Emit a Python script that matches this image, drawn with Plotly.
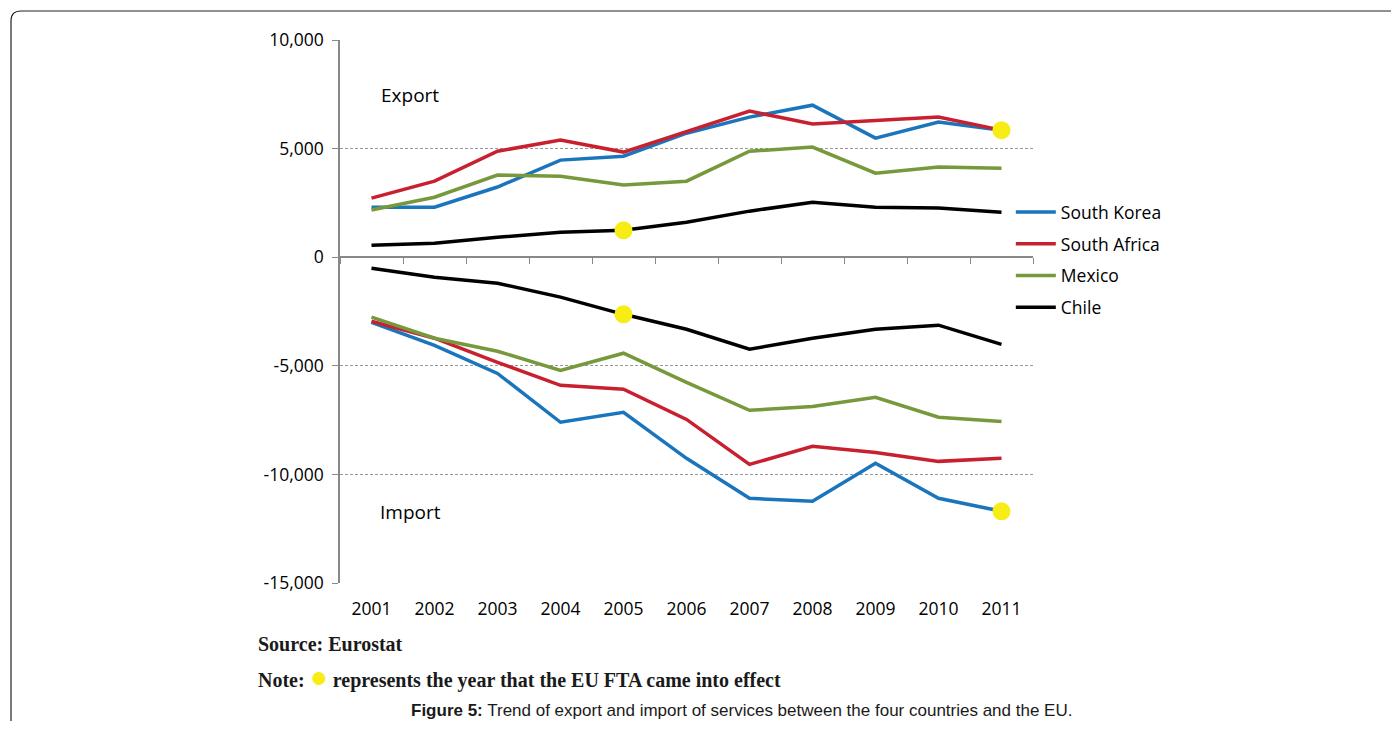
import plotly.graph_objects as go

years = ["2001", "2002", "2003", "2004", "2005", "2006", "2007", "2008", "2009", "2010", "2011"]

korea_exp = [2300, 2300, 3230, 4470, 4650, 5710, 6450, 7000, 5480, 6220, 5850]
africa_exp = [2720, 3500, 4880, 5390, 4840, 5800, 6730, 6130, 6310, 6450, 5850]
mexico_exp = [2170, 2760, 3780, 3730, 3320, 3500, 4880, 5070, 3870, 4150, 4100]
chile_exp = [550, 645, 920, 1150, 1240, 1610, 2120, 2530, 2300, 2260, 2070]

korea_imp = [-3000, -4060, -5350, -7600, -7140, -9260, -11100, -11240, -9490, -11100, -11700]
africa_imp = [-2950, -3730, -4840, -5900, -6080, -7470, -9540, -8710, -8990, -9400, -9260]
mexico_imp = [-2760, -3730, -4330, -5210, -4420, -5760, -7050, -6870, -6450, -7370, -7560]
chile_imp = [-510, -920, -1200, -1840, -2630, -3320, -4240, -3730, -3320, -3130, -4010]

# FTA years: Chile 2005, South Korea 2011
fta_chile_year = "2005"
fta_korea_year = "2011"

ytick_vals = [10000, 5000, 0, -5000, -10000, -15000]
ytick_text = ["10,000", "5,000", "0", "-5,000", "-10,000", "-15,000"]

series = [
    ("South Korea", korea_exp, korea_imp, "#1B75BC"),
    ("South Africa", africa_exp, africa_imp, "#C8202F"),
    ("Mexico", mexico_exp, mexico_imp, "#77983B"),
    ("Chile", chile_exp, chile_imp, "#000000"),
]

xi = list(range(len(years)))
fig = go.Figure()
for name, ex, im, col in series:
    fig.add_trace(go.Scatter(x=xi, y=ex, mode="lines", name=name,
                             line=dict(color=col, width=3.5), legendgroup=name))
    fig.add_trace(go.Scatter(x=xi, y=im, mode="lines", name=name, showlegend=False,
                             line=dict(color=col, width=3.5), legendgroup=name))

ci = years.index(fta_chile_year)
ki = years.index(fta_korea_year)
fig.add_trace(go.Scatter(
    x=[ci, ci, ki, ki],
    y=[chile_exp[ci], chile_imp[ci], korea_exp[ki], korea_imp[ki]],
    mode="markers", showlegend=False,
    marker=dict(color="#F7EC13", size=18, line=dict(width=0)),
))

# invisible trace for the category axis drawn at zero
fig.add_trace(go.Scatter(x=[-0.5, 10.5], y=[0, 0], xaxis="x2", mode="lines",
                         line=dict(width=0), showlegend=False, hoverinfo="skip"))

font_main = "Open Sans, Lato, sans-serif"

# page body has an 8px margin; figure is sized to fit inside the window
OFF = 8
W, H = 1383, 713
PL, PR, PT, PB = 340, 1033, 40, 583  # plot area in window pixels

fig.update_layout(
    width=W, height=H,
    margin=dict(l=PL - OFF, r=W - (PR - OFF), t=PT - OFF, b=H - (PB - OFF)),
    paper_bgcolor="white", plot_bgcolor="white",
    font=dict(family=font_main, size=17, color="#000000"),
    showlegend=True,
    legend=dict(x=0.968, y=0.716, xanchor="left", yanchor="top",
                bgcolor="rgba(0,0,0,0)", font=dict(size=17.5, family=font_main),
                itemwidth=40, tracegroupgap=6),
    xaxis=dict(range=[-0.5, 10.5], tickmode="array", tickvals=xi, ticktext=years,
               showgrid=False, zeroline=False, showline=False,
               ticks="outside", ticklen=10, tickcolor="rgba(0,0,0,0)",
               tickfont=dict(size=17.5, family=font_main)),
    xaxis2=dict(overlaying="x", anchor="free", position=0.6, side="bottom",
                range=[-0.5, 10.5], tickmode="array",
                tickvals=[i - 0.5 for i in range(len(years) + 1)],
                showticklabels=False, ticks="outside", ticklen=6, tickcolor="#888888",
                showline=True, linecolor="#888888", linewidth=1.5,
                showgrid=False, zeroline=False),
    yaxis=dict(range=[-15000, 10000], tickmode="array", tickvals=ytick_vals,
               ticktext=ytick_text, showgrid=True, gridcolor="#999999",
               griddash="3px,2px", gridwidth=1, zeroline=False,
               showline=True, linecolor="#888888", linewidth=1.5,
               ticks="outside", ticklen=6, tickcolor="#888888",
               ticklabelstandoff=5,
               tickfont=dict(size=17.5, family=font_main)),
)

fig.add_annotation(x=0.12, y=7450, xref="x", yref="y", text="Export", showarrow=False,
                   xanchor="left", yanchor="middle", font=dict(size=19, family=font_main))
fig.add_annotation(x=0.1, y=-11750, xref="x", yref="y", text="Import", showarrow=False,
                   xanchor="left", yanchor="middle", font=dict(size=19, family=font_main))


def px2x(p):
    return (p - PL) / (PR - PL)


def px2y(p):
    return (PB - p) / (PB - PT)


serif = "Liberation Serif, Times New Roman, serif"
fig.add_annotation(x=px2x(256), y=px2y(644), xref="paper", yref="paper",
                   text="<b>Source: Eurostat</b>", showarrow=False, xanchor="left",
                   yanchor="middle", font=dict(size=20, family=serif, color="#1a1a1a"))
fig.add_annotation(x=px2x(256), y=px2y(676), xref="paper", yref="paper",
                   text="<b>Note: <span style='color:#F7EC13;font-size:30px'>●</span> represents the year that the EU FTA came into effect</b>",
                   showarrow=False, xanchor="left", yanchor="middle",
                   font=dict(size=20, family=serif, color="#1a1a1a"))
fig.add_annotation(x=px2x(741), y=px2y(720.5), xref="paper", yref="paper",
                   text="<b>Figure 5:</b> Trend of export and import of services between the four countries and the EU.",
                   showarrow=False, xanchor="center", yanchor="bottom", borderpad=0,
                   font=dict(size=17, family="Liberation Sans, Arial, sans-serif", color="#1a1a1a"))

# frame around figure: left edge and top edge with rounded corner
L, T, B, r = 11, 11, 760, 10
R = 1405
path = (f"M {px2x(L)},{px2y(B)} L {px2x(L)},{px2y(T + r)} "
        f"Q {px2x(L)},{px2y(T)} {px2x(L + r)},{px2y(T)} "
        f"L {px2x(R)},{px2y(T)}")
fig.add_shape(type="path", path=path, xref="paper", yref="paper",
              line=dict(color="#222222", width=1.2), layer="below")

fig.write_html("out.html")
